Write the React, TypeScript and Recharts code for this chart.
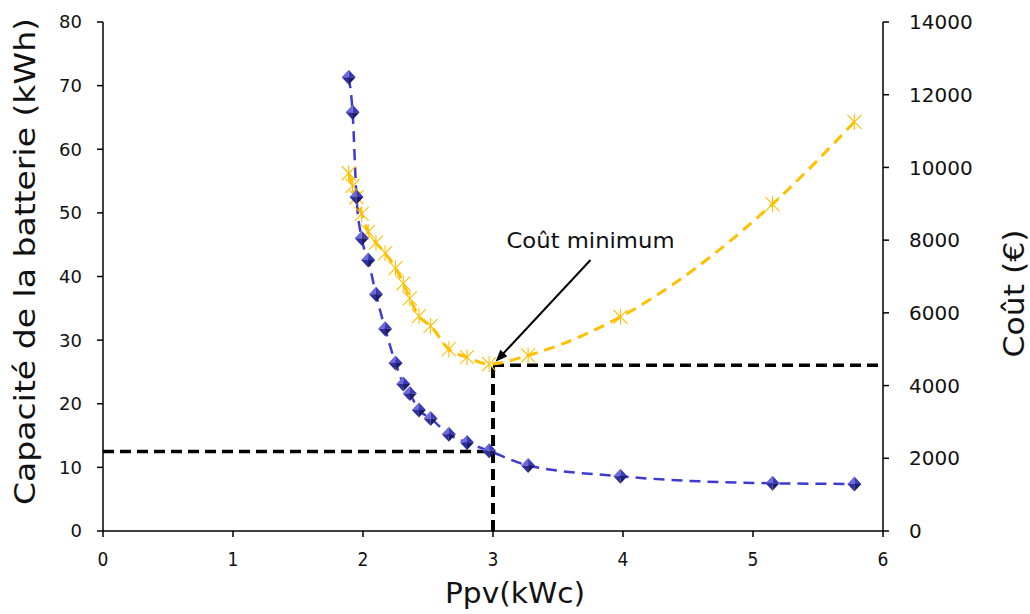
import {
  ComposedChart,
  Line,
  ReferenceLine,
  XAxis,
  YAxis,
} from "recharts";

// Ppv (kWc) shared by both series
const ppv = [1.89, 1.92, 1.95, 1.99, 2.04, 2.1, 2.17, 2.25, 2.31, 2.36, 2.43, 2.52, 2.66, 2.8, 2.97, 3.27, 3.98, 5.15, 5.78];
// battery capacity (kWh), left axis
const capacity = [71.3, 65.8, 52.5, 46.0, 42.6, 37.2, 31.8, 26.4, 23.1, 21.6, 19.0, 17.7, 15.2, 13.9, 12.6, 10.3, 8.6, 7.5, 7.4];
// cost (€), right axis
const cost = [9840, 9490, 9180, 8720, 8230, 7930, 7640, 7230, 6810, 6400, 5910, 5640, 5000, 4780, 4590, 4830, 5890, 8990, 11250];

const xTicks = [0, 1, 2, 3, 4, 5, 6];
const capTicks = [0, 10, 20, 30, 40, 50, 60, 70, 80];
const costTicks = [0, 2000, 4000, 6000, 8000, 10000, 12000, 14000];

// optimum
const optPpv = 3;
const optCapacity = 12.5;
const optCost = 4560;
const arrowFrom = { x: 3.75, y: 42.6 };
const arrowTo = { x: 3.02, y: 26.6 };

const data = ppv.map((x, i) => ({ x, capacity: capacity[i], cost: cost[i] }));

const titleFont = "'DejaVu Sans', sans-serif";

function Diamond(props: any) {
  const { cx, cy, index } = props;
  if (cx == null || cy == null) return <g key={`dm-${index}`} />;
  const w = 7;
  const h = 7.5;
  return (
    <g key={`dm-${index}`}>
      <polygon points={`${cx},${cy - h} ${cx - w},${cy} ${cx},${cy}`} fill="#6a6ad8" />
      <polygon points={`${cx},${cy - h} ${cx + w},${cy} ${cx},${cy}`} fill="#3a3ab4" />
      <polygon points={`${cx - w},${cy} ${cx},${cy + h} ${cx},${cy}`} fill="#2e2e9c" />
      <polygon points={`${cx + w},${cy} ${cx},${cy + h} ${cx},${cy}`} fill="#1c1c6c" />
    </g>
  );
}

function Star(props: any) {
  const { cx, cy, index } = props;
  if (cx == null || cy == null) return <g key={`st-${index}`} />;
  const r = 7;
  return (
    <g key={`st-${index}`} stroke="#ffc000" strokeWidth={1.1}>
      <line x1={cx - r} y1={cy - r} x2={cx + r} y2={cy + r} />
      <line x1={cx - r} y1={cy + r} x2={cx + r} y2={cy - r} />
      <line x1={cx} y1={cy - r - 1} x2={cx} y2={cy + r + 1} />
    </g>
  );
}

function Arrow(props: any) {
  const { x1, y1, x2, y2 } = props;
  const ang = Math.atan2(y2 - y1, x2 - x1);
  const len = 13;
  const spread = 0.38;
  const ax = x2 - len * Math.cos(ang - spread);
  const ay = y2 - len * Math.sin(ang - spread);
  const bx = x2 - len * Math.cos(ang + spread);
  const by = y2 - len * Math.sin(ang + spread);
  return (
    <g>
      <line x1={x1} y1={y1} x2={x2 - 6 * Math.cos(ang)} y2={y2 - 6 * Math.sin(ang)} stroke="#000" strokeWidth={2} />
      <polygon points={`${x2},${y2} ${ax},${ay} ${bx},${by}`} fill="#000" />
      <text x={x1} y={y1 - 12} textAnchor="middle" fontSize={21} textLength={168} lengthAdjust="spacingAndGlyphs" fontFamily={titleFont} fill="#111">
        Coût minimum
      </text>
    </g>
  );
}

export default function App() {
  return (
    <div style={{ position: "fixed", left: 0, top: 0, width: 1030, height: 614, overflow: "hidden", background: "#fff" }}>
      <ComposedChart
        width={1030}
        height={614}
        data={data}
        margin={{ top: 22, right: 60, bottom: 33, left: 40 }}
      >
        <XAxis
          dataKey="x"
          type="number"
          domain={[0, 6]}
          ticks={xTicks}
          allowDataOverflow
          height={50}
          stroke="#000"
          strokeWidth={1.5}
          tickSize={6}
          tickMargin={16}
          tick={{ fill: "#111", fontSize: 19, fontFamily: "'DejaVu Sans Condensed', 'Liberation Sans Narrow', sans-serif" }}
          label={(p: any) => {
            const vb = p.viewBox;
            return (
              <text x={vb.x + vb.width / 2 + 22} y={vb.y + 72} textAnchor="middle" fontSize={28} textLength={140} lengthAdjust="spacingAndGlyphs" fontFamily={titleFont} fill="#111">
                Ppv(kWc)
              </text>
            );
          }}
        />
        <YAxis
          yAxisId="left"
          domain={[0, 80]}
          ticks={capTicks}
          allowDataOverflow
          width={63}
          stroke="#000"
          strokeWidth={1.5}
          tickSize={6}
          tickMargin={15}
          tick={{ fill: "#111", fontSize: 18, fontFamily: "'DejaVu Sans', sans-serif" }}
          label={(p: any) => {
            const vb = p.viewBox;
            const cx = vb.x - 15;
            const cy = vb.y + vb.height / 2 - 15;
            return (
              <text x={cx} y={cy} transform={`rotate(-90 ${cx} ${cy})`} textAnchor="middle" dominantBaseline="central" fontSize={29} textLength={487} lengthAdjust="spacingAndGlyphs" fontFamily={titleFont} fill="#111">
                Capacité de la batterie (kWh)
              </text>
            );
          }}
        />
        <YAxis
          yAxisId="right"
          orientation="right"
          domain={[0, 14000]}
          ticks={costTicks}
          allowDataOverflow
          width={87}
          stroke="#000"
          strokeWidth={1.5}
          tickSize={6}
          tickMargin={20}
          tick={{ fill: "#111", fontSize: 20, fontFamily: "'DejaVu Sans', sans-serif" }}
          label={(p: any) => {
            const vb = p.viewBox;
            const cx = vb.x + vb.width + 44;
            const cy = vb.y + vb.height / 2 + 17;
            return (
              <text x={cx} y={cy} transform={`rotate(-90 ${cx} ${cy})`} textAnchor="middle" dominantBaseline="central" fontSize={28} textLength={128} lengthAdjust="spacingAndGlyphs" fontFamily={titleFont} fill="#111">
                Coût (€)
              </text>
            );
          }}
        />
        <ReferenceLine
          yAxisId="left"
          segment={[{ x: 0, y: optCapacity }, { x: optPpv, y: optCapacity }]}
          stroke="#000"
          strokeWidth={3.5}
          strokeDasharray="11 6"
        />
        <ReferenceLine
          yAxisId="right"
          segment={[{ x: optPpv, y: 0 }, { x: optPpv, y: optCost }]}
          stroke="#000"
          strokeWidth={4}
          strokeDasharray="11 6"
        />
        <ReferenceLine
          yAxisId="right"
          segment={[{ x: optPpv, y: optCost }, { x: 6, y: optCost }]}
          stroke="#000"
          strokeWidth={3.5}
          strokeDasharray="11 6"
        />
        <Line
          yAxisId="right"
          type="monotone"
          dataKey="cost"
          stroke="#ffc000"
          strokeWidth={3}
          strokeDasharray="11 7"
          dot={Star}
          activeDot={false}
          isAnimationActive={false}
        />
        <Line
          yAxisId="left"
          type="monotone"
          dataKey="capacity"
          stroke="#3c3cd2"
          strokeWidth={2.5}
          strokeDasharray="11 7"
          dot={Diamond}
          activeDot={false}
          isAnimationActive={false}
        />
        <ReferenceLine
          yAxisId="left"
          segment={[arrowFrom, arrowTo]}
          shape={Arrow}
        />
      </ComposedChart>
    </div>
  );
}
